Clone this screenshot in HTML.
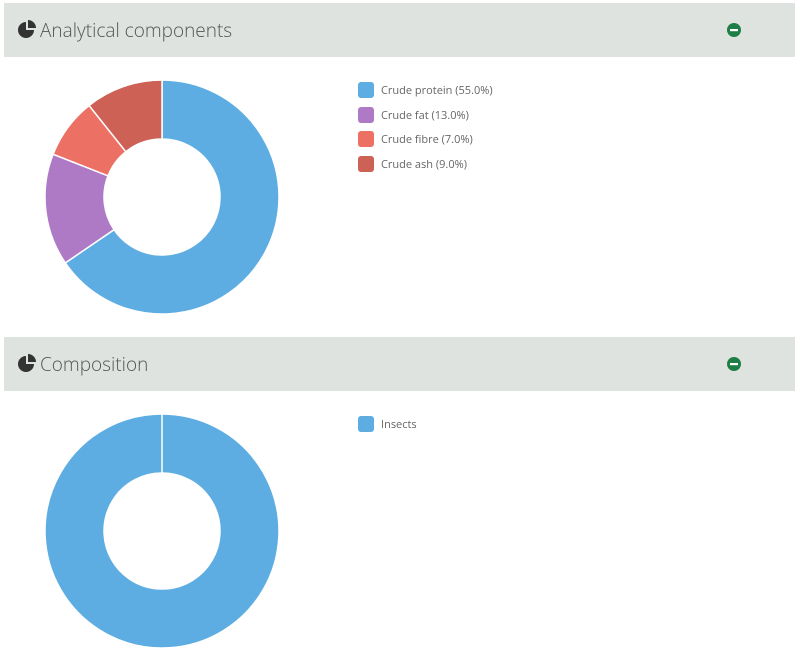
<!DOCTYPE html>
<html><head><style>
body{margin:0;background:#fff;font-family:"Open Sans","Liberation Sans",sans-serif;}
.hdr{position:absolute;left:4px;width:791px;height:54px;background:#dfe3e0;}
.hdr .t{position:absolute;left:36px;top:14px;font-size:19px;color:#555;font-weight:300;}
.lg{position:absolute;left:358px;width:300px;font-size:11px;color:#666;white-space:nowrap;}
.lg div{position:relative;height:24.5px;}
.lg i{position:absolute;left:0;top:0;width:16px;height:16px;border-radius:3px;}
.lg span{position:absolute;left:23px;top:1px;}
</style></head><body>
<div class="hdr" style="top:3px"><span class="t">Analytical components</span></div>
<div class="hdr" style="top:337px"><span class="t">Composition</span></div>
<svg width="800" height="652" style="position:absolute;left:0;top:0">
<g fill="#333">
<path d="M26,22 A8,8 0 1 0 34,30 L26,30 Z"/><path d="M28,20 A8,8 0 0 1 36,28 L28,28 Z"/>
<path d="M26,356 A8,8 0 1 0 34,364 L26,364 Z"/><path d="M28,354 A8,8 0 0 1 36,362 L28,362 Z"/>
</g>
<circle cx="734" cy="30" r="7" fill="#1e7e45"/><rect x="730" y="29" width="8" height="2.2" fill="#fff"/>
<circle cx="734" cy="364" r="7" fill="#1e7e45"/><rect x="730" y="363" width="8" height="2.2" fill="#fff"/>
<g stroke="#fff" stroke-width="1.5">
<path fill="#5dade2" d="M162,80 A117,117 0 1 1 65.33,262.9 L114.08,229.67 A58,58 0 1 0 162,139 Z"/>
<path fill="#af7ac5" d="M65.33,262.9 A117,117 0 0 1 53.09,154.26 L108,175.81 A58,58 0 0 0 114.08,229.67 Z"/>
<path fill="#ec7063" d="M53.09,154.26 A117,117 0 0 1 89.05,105.53 L125.84,151.66 A58,58 0 0 0 108,175.81 Z"/>
<path fill="#cd6155" d="M89.05,105.53 A117,117 0 0 1 162,80 L162,139 A58,58 0 0 0 125.84,151.66 Z"/>
<path fill="#5dade2" fill-rule="evenodd" d="M162,414 A117,117 0 1 1 161.99,414 Z M162,473 A58,58 0 1 0 162.01,473 Z"/>
<line x1="162" y1="414" x2="162" y2="473"/>
</g>
</svg>
<div class="lg" style="top:82px">
<div><i style="background:#5dade2"></i><span>Crude protein (55.0%)</span></div>
<div><i style="background:#af7ac5"></i><span>Crude fat (13.0%)</span></div>
<div><i style="background:#ec7063"></i><span>Crude fibre (7.0%)</span></div>
<div><i style="background:#cd6155"></i><span>Crude ash (9.0%)</span></div>
</div>
<div class="lg" style="top:416px">
<div><i style="background:#5dade2"></i><span>Insects</span></div>
</div>
</body></html>
